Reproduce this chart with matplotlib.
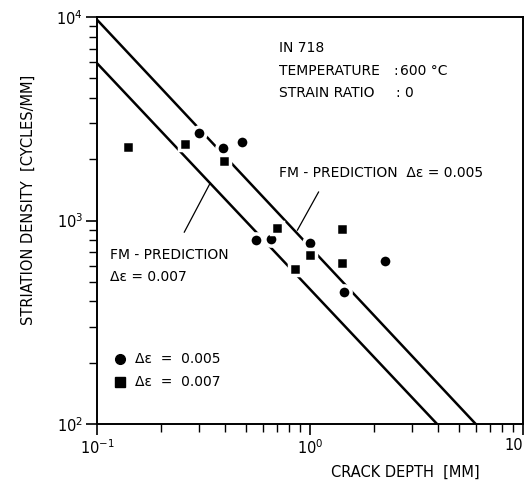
"""Striation density vs crack depth, IN 718 at 600 C (FM prediction lines)."""
import matplotlib
matplotlib.use("Agg")
import matplotlib.pyplot as plt

# measured points, delta eps = 0.005 (circles)
depth_005 = [0.302, 0.392, 0.481, 0.555, 0.659, 1.005, 1.45, 2.24]
density_005 = [2690, 2270, 2430, 802, 811, 774, 446, 632]

# measured points, delta eps = 0.007 (squares)
depth_007 = [0.140, 0.259, 0.396, 0.703, 0.855, 1.005, 1.41, 1.41]
density_007 = [2300, 2380, 1960, 918, 578, 676, 908, 618]

# FM prediction lines (end points)
pred_005_x = [0.1, 6.0]
pred_005_y = [9700, 100]
pred_007_x = [0.1, 3.95]
pred_007_y = [5930, 100]

x_ticks = [0.1, 1.0, 10.0]
x_ticklabels = ["$10^{-1}$", "$10^{0}$", "10"]

plt.rcParams["font.family"] = "DejaVu Sans"
plt.rcParams["mathtext.fontset"] = "dejavusans"

fig = plt.figure(figsize=(5.28, 4.82), dpi=100)
ax = fig.add_axes([0.1837, 0.1203, 0.8068, 0.8444])
ax.set_xscale("log")
ax.set_yscale("log")
ax.set_xlim(0.1, 10)
ax.set_ylim(100, 1e4)

ax.plot(pred_005_x, pred_005_y, color="black", lw=1.8, zorder=2)
ax.plot(pred_007_x, pred_007_y, color="black", lw=1.8, zorder=2)

# white marker edges break the lines around the points, as in the original
ax.plot(depth_005, density_005, "o", ms=9.5, mfc="black", mec="white", mew=2.5,
        ls="none", zorder=3)
ax.plot(depth_007, density_007, "s", ms=9, mfc="black", mec="white", mew=2.5,
        ls="none", zorder=3)

# leader lines to the labels
ax.plot([0.873, 1.097], [897, 1380], color="black", lw=0.9)
ax.plot([0.340, 0.257], [1527, 877], color="black", lw=0.9)

fs = 10
tr = ax.transAxes
ax.text(0.427, 0.924, "IN 718", transform=tr, fontsize=fs, va="center")
ax.text(0.427, 0.867, "TEMPERATURE", transform=tr, fontsize=fs, va="center")
ax.text(0.695, 0.867, ":", transform=tr, fontsize=fs, va="center")
ax.text(0.712, 0.867, "600 °C", transform=tr, fontsize=fs, va="center")
ax.text(0.427, 0.813, "STRAIN RATIO", transform=tr, fontsize=fs, va="center")
ax.text(0.700, 0.813, ":", transform=tr, fontsize=fs, va="center")
ax.text(0.720, 0.813, "0", transform=tr, fontsize=fs, va="center")

ax.text(0.427, 0.617, "FM - PREDICTION  Δε = 0.005", transform=tr,
        fontsize=fs, va="center")
ax.text(0.031, 0.415, "FM - PREDICTION", transform=tr, fontsize=fs, va="center")
ax.text(0.031, 0.361, "Δε = 0.007", transform=tr, fontsize=fs, va="center")

# hand-drawn style legend
ax.plot([0.054], [0.160], "o", ms=7, color="black", transform=tr)
ax.plot([0.054], [0.103], "s", ms=6.5, color="black", transform=tr)
ax.text(0.089, 0.160, "Δε  =  0.005", transform=tr, fontsize=fs, va="center")
ax.text(0.089, 0.103, "Δε  =  0.007", transform=tr, fontsize=fs, va="center")

ax.set_xticks(x_ticks)
ax.set_xticklabels(x_ticklabels)
ax.get_xticklabels()[-1].set_ha("right")
ax.tick_params(axis="both", which="major", direction="out", length=8, width=1.2,
               labelsize=10.5, pad=2, top=False, right=False)
ax.tick_params(axis="both", which="minor", direction="out", length=5.5, width=1.0,
               top=False, right=False)

for s in ax.spines.values():
    s.set_linewidth(1.4)

fig.text(405 / 528, 1 - 472 / 482, "CRACK DEPTH  [MM]", fontsize=10.5,
         ha="center", va="center")
fig.text(28 / 528, 1 - 200 / 482, "STRIATION DENSITY  [CYCLES/MM]", fontsize=10.5,
         ha="center", va="center", rotation=90)

fig.savefig("out.png", dpi=100)
